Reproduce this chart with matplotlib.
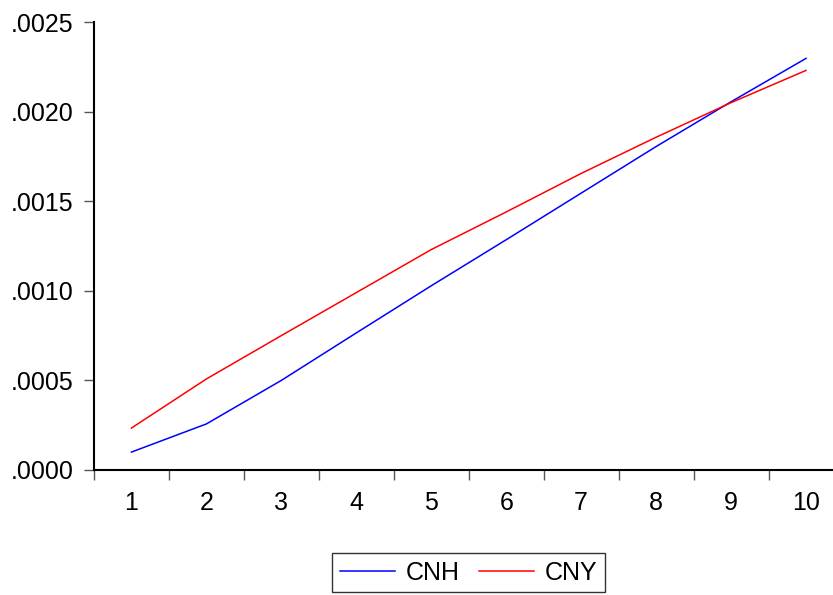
import matplotlib
matplotlib.use('Agg')
import matplotlib.pyplot as plt
from matplotlib.ticker import FixedLocator, FuncFormatter

periods = [1, 2, 3, 4, 5, 6, 7, 8, 9, 10]
cnh = [0.000100, 0.000257, 0.000500, 0.000765, 0.001028, 0.001285, 0.001545, 0.001805, 0.002055, 0.002297]
cny = [0.000234, 0.000508, 0.000750, 0.000990, 0.001230, 0.001440, 0.001655, 0.001857, 0.002050, 0.002230]
yticks = [0.0000, 0.0005, 0.0010, 0.0015, 0.0020, 0.0025]

plt.rcParams['font.family'] = ['Liberation Sans', 'DejaVu Sans']

fig = plt.figure(figsize=(8.33, 5.95), dpi=100)
ax = fig.add_axes([0.1128, 0.2101, 0.8998, 0.7529])

l1, = ax.plot(periods, cnh, color='#0000ff', linewidth=1.1, label='CNH')
l2, = ax.plot(periods, cny, color='#ff0000', linewidth=1.1, label='CNY')

ax.set_xlim(0.5, 10.5)
ax.set_ylim(0, 0.0025)

# category boundaries get tick marks, centers get labels
ax.xaxis.set_major_locator(FixedLocator([p - 0.5 for p in periods] + [10.5]))
ax.xaxis.set_major_formatter(FuncFormatter(lambda v, pos: ''))
ax.xaxis.set_minor_locator(FixedLocator(periods))
ax.xaxis.set_minor_formatter(FuncFormatter(lambda v, pos: f'{int(round(v))}'))
ax.tick_params(axis='x', which='major', direction='out', length=7.5, width=1, color='#555555')
ax.tick_params(axis='x', which='minor', length=0, pad=15, labelsize=18)

ax.set_yticks(yticks)
ax.yaxis.set_major_formatter(FuncFormatter(lambda v, pos: f'{v:.4f}'.lstrip('0')))
ax.tick_params(axis='y', direction='out', length=7.5, width=1, color='#555555', labelsize=18, pad=7)

for s in ['top', 'right']:
    ax.spines[s].set_visible(False)
for s in ['left', 'bottom']:
    ax.spines[s].set_linewidth(1.5)
    ax.spines[s].set_color('black')

leg = fig.legend(handles=[l1, l2], loc='center', bbox_to_anchor=(0.5624, 0.037),
                 ncol=2, fontsize=18, frameon=True, fancybox=False,
                 edgecolor='black', handlelength=2.2, columnspacing=0.75,
                 borderpad=0.3, handletextpad=0.45, borderaxespad=0)
leg.get_frame().set_linewidth(1.0)

fig.savefig('out.png', dpi=100)
